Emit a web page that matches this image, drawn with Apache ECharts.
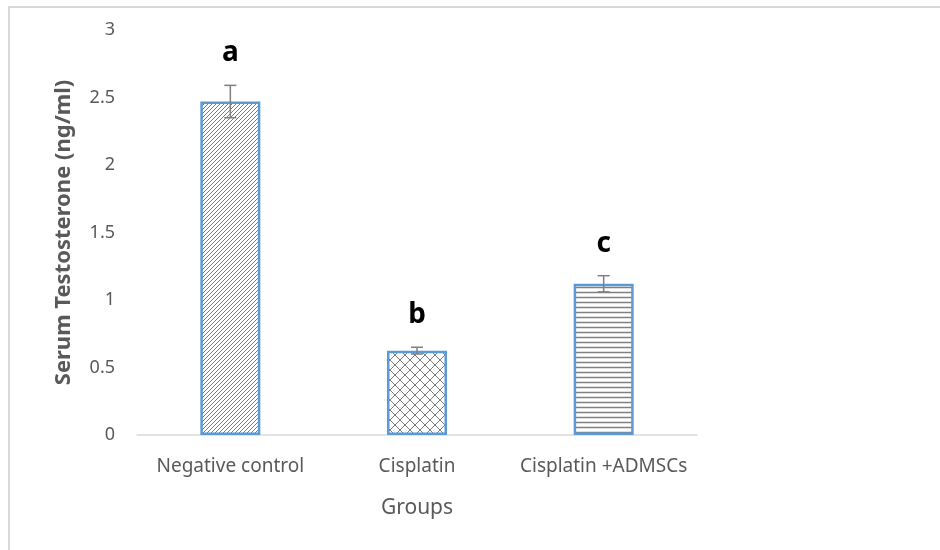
<!DOCTYPE html>
<html>
<head>
<meta charset="utf-8">
<script src="https://cdn.jsdelivr.net/npm/echarts@6/dist/echarts.min.js"></script>
<style>
  html, body { margin: 0; padding: 0; background: #fff; }
  #chart { width: 940px; height: 550px; }
</style>
</head>
<body>
<div id="chart"></div>
<script>
const groups = ['Negative control', 'Cisplatin', 'Cisplatin +ADMSCs']
const means = [2.47, 0.625, 1.12]
const errors = [0.12, 0.025, 0.06]
const letters = ['a', 'b', 'c']

const FONT = 'Noto Sans'

// small canvas tiles for the bar fills
function makeTile(w, h, draw) {
  const c = document.createElement('canvas')
  c.width = w
  c.height = h
  const ctx = c.getContext('2d')
  ctx.fillStyle = '#fff'
  ctx.fillRect(0, 0, w, h)
  ctx.strokeStyle = '#7a7a7a'
  ctx.lineWidth = 1
  draw(ctx)
  return { image: c, repeat: 'repeat' }
}

const diagonal = makeTile(4, 4, (ctx) => {
  ctx.beginPath()
  ctx.moveTo(-1, 5); ctx.lineTo(5, -1)
  ctx.moveTo(-1, 1); ctx.lineTo(1, -1)
  ctx.moveTo(3, 5); ctx.lineTo(5, 3)
  ctx.stroke()
})

const cross = makeTile(10, 10, (ctx) => {
  ctx.beginPath()
  ctx.moveTo(0, 0); ctx.lineTo(10, 10)
  ctx.moveTo(0, 10); ctx.lineTo(10, 0)
  ctx.stroke()
})

const horizontal = makeTile(4, 5, (ctx) => {
  ctx.strokeStyle = '#808080'
  ctx.lineWidth = 1.5
  ctx.beginPath()
  ctx.moveTo(0, 2.5); ctx.lineTo(4, 2.5)
  ctx.stroke()
})

const fills = [diagonal, cross, horizontal]

const chart = echarts.init(document.getElementById('chart'))

const option = {
  backgroundColor: '#fff',
  animation: false,
  grid: { left: 137, right: 243, top: 30, bottom: 115 },
  graphic: [
    {
      type: 'polyline',
      shape: { points: [[9, 550], [9, 7], [940, 7]] },
      style: { stroke: '#d9d9d9', lineWidth: 2, fill: null }
    }
  ],
  xAxis: {
    type: 'category',
    data: groups,
    name: 'Groups',
    nameLocation: 'middle',
    nameGap: 63,
    nameTextStyle: { color: '#595959', fontSize: 21, fontFamily: FONT },
    axisLine: { lineStyle: { color: '#d9d9d9', width: 1.5 } },
    axisTick: { show: false },
    axisLabel: { color: '#595959', fontSize: 19, fontFamily: FONT, margin: 22, interval: 0 }
  },
  yAxis: {
    type: 'value',
    min: 0,
    max: 3,
    interval: 0.5,
    name: 'Serum Testosterone (ng/ml)',
    nameLocation: 'middle',
    nameGap: 62,
    nameTextStyle: { color: '#595959', fontSize: 22, fontWeight: 'bold', fontFamily: FONT },
    axisLine: { show: false },
    axisTick: { show: false },
    splitLine: { show: false },
    axisLabel: { color: '#595959', fontSize: 18, fontFamily: FONT, margin: 22 }
  },
  series: [
    {
      type: 'bar',
      barWidth: 60,
      data: means.map((v, i) => ({
        value: v,
        itemStyle: { color: fills[i], borderColor: '#5b9bd5', borderWidth: 2.5 }
      }))
    },
    {
      type: 'custom',
      encode: { x: 0, y: 1 },
      data: means.map((v, i) => [i, v, errors[i]]),
      z: 10,
      renderItem: function (params, api) {
        const i = api.value(0)
        const m = api.value(1)
        const e = api.value(2)
        const top = api.coord([i, m + e])
        const bot = api.coord([i, m - e])
        const hw = 6
        const st = { stroke: '#7f7f7f', lineWidth: 1.5 }
        return {
          type: 'group',
          children: [
            { type: 'line', shape: { x1: top[0], y1: top[1], x2: bot[0], y2: bot[1] }, style: st },
            { type: 'line', shape: { x1: top[0] - hw, y1: top[1], x2: top[0] + hw, y2: top[1] }, style: st },
            { type: 'line', shape: { x1: bot[0] - hw, y1: bot[1], x2: bot[0] + hw, y2: bot[1] }, style: st },
            {
              type: 'text',
              style: {
                text: letters[i],
                x: top[0],
                y: top[1] - 32,
                align: 'center',
                verticalAlign: 'middle',
                font: 'bold 28px "' + FONT + '"',
                fill: '#000'
              }
            }
          ]
        }
      }
    }
  ]
}

chart.setOption(option)
</script>
</body>
</html>
